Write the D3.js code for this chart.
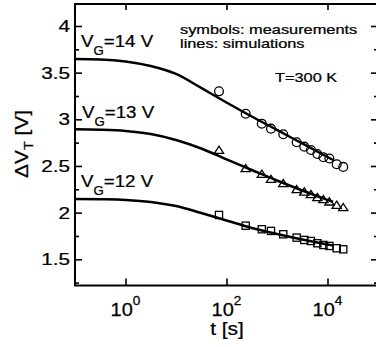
<!DOCTYPE html>
<html><head><meta charset="utf-8">
<script src="https://cdn.jsdelivr.net/npm/d3@7/dist/d3.min.js"></script>
<style>html,body{margin:0;padding:0;background:#fff;}svg{display:block;}</style>
</head><body>
<svg id="c" width="376" height="347"></svg>
<script>
// ---- data ----
const measTimes = [71, 240, 500, 760, 1330, 2450, 3470, 4700, 6300, 8300, 10900, 15200, 20500];
const meas14 = [3.30, 3.06, 2.953, 2.90, 2.84, 2.754, 2.707, 2.671, 2.628, 2.593, 2.58, 2.518, 2.49];
const meas13 = [2.671, 2.475, 2.414, 2.36, 2.315, 2.25, 2.225, 2.197, 2.165, 2.143, 2.118, 2.082, 2.057];
const meas12 = [1.975, 1.86, 1.822, 1.804, 1.768, 1.732, 1.707, 1.696, 1.672, 1.653, 1.643, 1.618, 1.607];
const simTimes = [0.1, 0.316, 1, 3.16, 10, 31.6, 100, 316, 1000, 3160, 10000, 12900];
const sim14 = [3.646, 3.641, 3.620, 3.571, 3.486, 3.336, 3.180, 3.030, 2.886, 2.741, 2.596, 2.564];
const sim13 = [2.893, 2.888, 2.875, 2.843, 2.779, 2.687, 2.570, 2.457, 2.344, 2.237, 2.136, 2.114];
const sim12 = [2.146, 2.143, 2.136, 2.115, 2.071, 1.996, 1.916, 1.836, 1.771, 1.712, 1.659, 1.648];
const xTickVals = [1, 100, 10000];
const xTickExp = ["0", "2", "4"];
const yMajor = [1.5, 2, 2.5, 3, 3.5, 4];
const yMinor = [1.25, 1.75, 2.25, 2.75, 3.25, 3.75];
const yTickLabels = ["1.5", "2", "2.5", "3", "3.5", "4"];

const svg = d3.select("#c");
const L = 75, R = 378, T = 4, B = 285.5;
const x = d3.scaleLog().domain([0.1, 1e5]).range([L, R]);
const y = d3.scaleLinear().domain([1.219, 4.2357]).range([B, T]);
const FONT = "'Liberation Sans', Arial, Helvetica, sans-serif";

// frame
svg.append("rect").attr("x", L).attr("y", T).attr("width", R - L).attr("height", B - T)
  .attr("fill", "none").attr("stroke", "#000").attr("stroke-width", 2);

// axes (ticks inside) via d3 axes
const gL = svg.append("g").attr("transform", `translate(${L},0)`)
  .call(d3.axisLeft(y).tickValues(yMajor).tickSize(-7).tickFormat(""));
const gLm = svg.append("g").attr("transform", `translate(${L},0)`)
  .call(d3.axisLeft(y).tickValues(yMinor).tickSize(-4).tickFormat(""));
const gR = svg.append("g").attr("transform", `translate(${R},0)`)
  .call(d3.axisRight(y).tickValues(yMajor).tickSize(-7).tickFormat(""));
const gRm = svg.append("g").attr("transform", `translate(${R},0)`)
  .call(d3.axisRight(y).tickValues(yMinor).tickSize(-4).tickFormat(""));
const gB = svg.append("g").attr("transform", `translate(0,${B})`)
  .call(d3.axisBottom(x).tickValues(xTickVals).tickSize(-7).tickFormat(""));
const gT = svg.append("g").attr("transform", `translate(0,${T})`)
  .call(d3.axisTop(x).tickValues(xTickVals).tickSize(-6).tickFormat(""));
[gL, gLm, gR, gRm, gB, gT].forEach(g => {
  g.select(".domain").remove();
  g.selectAll("line").attr("stroke", "#000").attr("stroke-width", 1.6);
});

// text helper: parts = [[text, size, dy]]
function txt(xp, yp, anchor, sx, parts, rot) {
  const t = svg.append("text")
    .attr("transform", `translate(${xp},${yp})` + (rot ? ` rotate(${rot})` : "") + ` scale(${sx},1)`)
    .attr("text-anchor", anchor).attr("font-family", FONT).attr("fill", "#000")
    .attr("stroke", "#000").attr("stroke-width", 0.25);
  parts.forEach(p => {
    t.append("tspan").attr("font-size", p[1]).attr("dy", p[2] || 0).text(p[0]);
  });
  return t;
}

// y tick labels
yMajor.forEach((v, i) => txt(70, y(v) + 6, "end", 1.22, [[yTickLabels[i], 17]]));
// x tick labels
xTickVals.forEach((v, i) => txt(x(v), 316, "middle", 1.05, [["10", 19], [xTickExp[i], 13, -11]]));
// axis labels
txt(227, 335, "middle", 1.1, [["t [s]", 19]]);
txt(28, 144, "middle", 1.1, [["\u0394V", 19], ["T", 13, 5], [" [V]", 19, -5]], -90);

// annotations
txt(180, 34, "start", 1.26, [["symbols: measurements", 13]]);
txt(180, 48, "start", 1.26, [["lines: simulations", 13]]);
txt(275, 81.5, "start", 1.2, [["T=300 K", 13.6]]);
txt(81, 46.5, "start", 1.1, [["V", 17], ["G", 12, 8], ["=14 V", 17, -8]]);
txt(82, 117.5, "start", 1.1, [["V", 17], ["G", 12, 8], ["=13 V", 17, -8]]);
txt(81, 186.5, "start", 1.1, [["V", 17], ["G", 12, 8], ["=12 V", 17, -8]]);

// simulation lines
const line = d3.line().x(d => x(d[0])).y(d => y(d[1])).curve(d3.curveMonotoneX);
[sim14, sim13, sim12].forEach(s => {
  svg.append("path").datum(simTimes.map((t, i) => [t, s[i]]))
    .attr("d", line).attr("fill", "none").attr("stroke", "#000").attr("stroke-width", 2.5);
});

// measurements
const mk = svg.append("g").attr("fill", "none").attr("stroke", "#000").attr("stroke-width", 1.3);
measTimes.forEach((t, i) => {
  mk.append("circle").attr("cx", x(t)).attr("cy", y(meas14[i])).attr("r", 4.4);
  mk.append("path").attr("transform", `translate(${x(t)},${y(meas13[i])})`)
    .attr("d", "M0,-3.8L4.6,3.4L-4.6,3.4Z");
  mk.append("rect").attr("x", x(t) - 3.6).attr("y", y(meas12[i]) - 3.6)
    .attr("width", 7.2).attr("height", 7.2);
});
</script>
</body></html>
